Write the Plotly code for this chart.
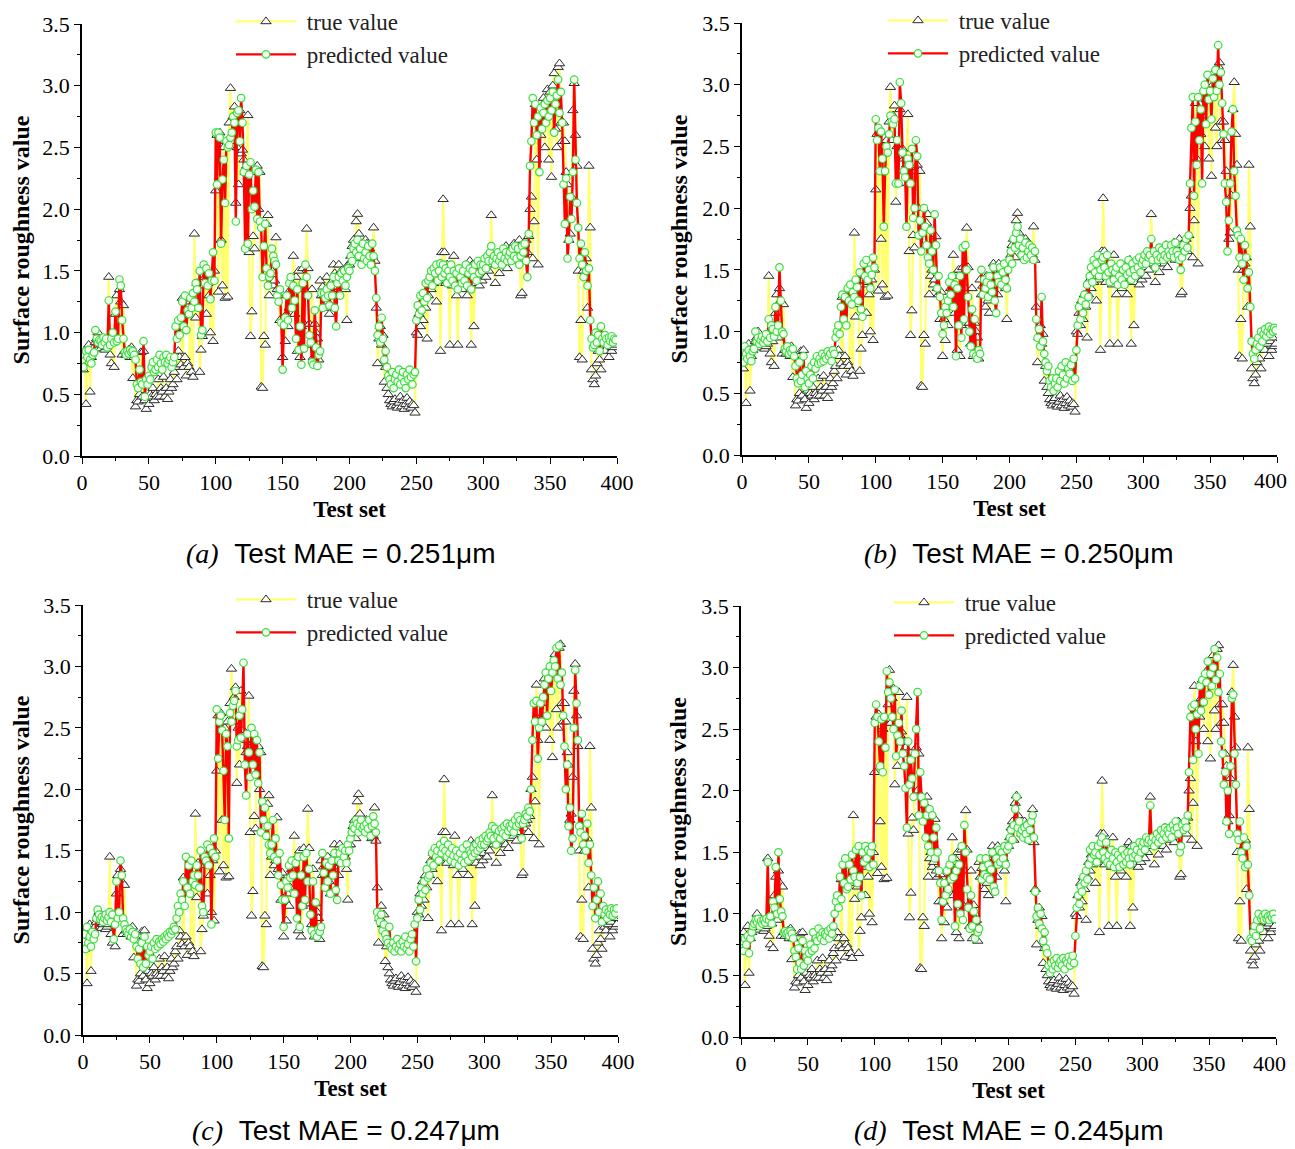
import plotly.graph_objects as go

# ---------------- data ----------------
true_value = [
    0.75, 0.70, 0.85, 0.42, 0.80, 0.90, 0.52, 0.80, 0.85, 0.88,
    0.92, 0.95, 1.00, 0.88, 0.87, 0.90, 0.92, 0.86, 0.88, 0.90,
    1.45, 0.82, 0.75, 0.92, 0.72, 1.15, 1.30, 0.95, 1.35, 1.25,
    0.82, 1.22, 0.85, 0.82, 0.84, 0.86, 0.80, 0.88, 0.63, 0.80,
    0.40, 0.45, 0.44, 0.50, 0.84, 0.48, 0.85, 0.45, 0.38, 0.52,
    0.42, 0.50, 0.48, 0.55, 0.45, 0.50, 0.48, 0.62, 0.48, 0.55,
    0.52, 0.64, 0.48, 0.55, 0.46, 0.52, 0.62, 0.55, 0.58, 0.68,
    0.72, 0.62, 0.85, 0.80, 0.74, 1.28, 0.72, 0.80, 0.65, 0.75,
    0.72, 1.25, 0.68, 0.64, 1.80, 1.12, 1.40, 1.22, 0.68, 0.86,
    0.97, 1.38, 1.45, 1.15, 1.40, 1.30, 1.00, 1.42, 0.93, 1.50,
    2.15, 2.60, 1.33, 2.62, 1.75, 1.38, 2.50, 1.28, 2.55, 1.29,
    2.70, 2.98, 2.55, 2.75, 2.83, 2.05, 2.50, 2.20, 2.80, 2.45,
    2.48, 2.40, 2.30, 2.35, 2.76, 1.65, 0.97, 1.17, 1.78, 1.68,
    2.30, 2.35, 2.00, 2.30, 0.56, 0.55, 0.97, 0.90, 1.88, 1.95,
    1.30, 1.45, 1.50, 1.38, 1.42, 1.77, 1.35, 1.30, 1.10, 1.32,
    0.80, 1.10, 0.93, 1.15, 1.05, 1.20, 1.35, 1.40, 1.62, 1.15,
    1.45, 0.85, 1.50, 0.80, 1.05, 1.52, 1.07, 1.35, 1.84, 1.52,
    1.07, 0.90, 1.35, 0.80, 1.07, 1.00, 0.95, 0.78, 1.42, 1.30,
    1.37, 1.30, 1.20, 1.45, 1.25, 1.15, 1.40, 1.35, 1.55, 1.48,
    1.45, 1.30, 1.55, 1.40, 1.50, 1.48, 1.45, 1.35, 1.10, 1.55,
    1.55, 1.62, 1.70, 1.75, 1.60, 1.90, 1.96, 1.80, 1.70, 1.72,
    1.65, 1.70, 1.75, 1.72, 1.65, 1.68, 1.60, 1.62, 1.85, 1.58,
    1.20, 0.75, 0.95, 1.05, 0.90, 0.98, 0.60, 0.72, 0.55, 0.50,
    0.45, 0.42, 0.40, 0.44, 0.46, 0.41, 0.39, 0.43, 0.48, 0.40,
    0.45, 0.38, 0.42, 0.47, 0.40, 0.44, 0.39, 0.42, 0.41, 0.35,
    1.00, 0.98, 1.15, 1.05, 1.25, 1.10, 1.30, 1.20, 0.95, 1.30,
    1.42, 1.35, 1.48, 1.40, 1.45, 1.25, 1.50, 1.42, 0.85, 1.65,
    2.08, 1.65, 1.40, 1.55, 1.50, 0.90, 1.45, 1.38, 1.62, 1.48,
    1.30, 0.90, 1.40, 1.50, 1.35, 1.45, 1.40, 1.52, 1.30, 1.45,
    1.58, 0.90, 1.55, 1.05, 1.40, 1.45, 1.50, 1.38, 1.55, 1.42,
    1.48, 1.52, 1.45, 1.60, 1.50, 1.62, 1.95, 1.55, 1.58, 1.40,
    1.55, 1.60, 1.48, 1.65, 1.58, 1.62, 1.55, 1.70, 1.52, 1.66,
    1.60, 1.68, 1.62, 1.72, 1.58, 1.70, 1.65, 1.75, 1.30, 1.32,
    1.68, 1.72, 1.75, 1.65, 1.78, 2.00, 2.10, 1.60, 1.90, 2.85,
    2.40, 1.55, 2.70, 2.60, 2.75, 2.90, 2.50, 2.88, 2.97, 2.40,
    2.95, 2.26, 3.00, 3.10, 2.65, 2.50, 3.15, 3.18, 2.70, 2.55,
    2.70, 2.55, 2.30, 2.20, 1.75, 1.80, 2.10, 2.80, 3.02, 2.60,
    2.35, 1.50, 0.80, 1.10, 0.78, 1.50, 1.55, 1.60, 1.20, 2.35,
    1.85, 0.70, 0.62, 0.58, 0.65, 0.75, 0.85, 0.78, 0.70, 0.95,
    0.88, 0.85, 0.95, 0.90, 0.80, 0.92, 0.85, 0.95, 0.88, 0.90,
]

pred_a = [
    0.78, 0.72, 0.82, 0.85, 0.80, 0.86, 0.78, 0.75, 0.82, 0.84,
    1.02, 0.95, 0.92, 0.94, 0.93, 0.90, 0.96, 0.92, 0.95, 0.88,
    1.26, 0.90, 0.95, 1.00, 0.92, 1.17, 0.93, 0.95, 1.43, 1.38,
    1.10, 0.95, 0.84, 0.82, 0.85, 0.83, 0.86, 0.84, 0.85, 0.82,
    0.78, 0.58, 0.55, 0.70, 0.60, 0.58, 0.93, 0.48, 0.62, 0.58,
    0.65, 0.62, 0.72, 0.76, 0.68, 0.70, 0.78, 0.72, 0.82, 0.75,
    0.70, 0.80, 0.76, 0.82, 0.75, 0.78, 0.80, 0.72, 0.76, 0.80,
    1.05, 0.95, 1.10, 0.98, 1.12, 1.25, 1.05, 1.30, 1.02, 1.18,
    1.15, 1.28, 1.20, 1.32, 1.25, 1.40, 1.35, 1.20, 1.50, 0.98,
    1.02, 1.55, 1.40, 1.52, 1.38, 1.48, 1.27, 1.42, 1.65, 1.42,
    2.62, 2.20, 2.62, 2.58, 1.72, 2.24, 2.40, 2.05, 2.55, 2.50,
    2.52, 2.58, 2.62, 2.75, 2.70, 1.90, 2.78, 2.80, 2.55, 2.90,
    2.70, 2.30, 1.68, 2.35, 1.72, 2.28, 2.38, 2.00, 2.15, 2.02,
    2.32, 1.92, 2.30, 1.90, 1.85, 1.45, 1.70, 1.88, 1.52, 1.38,
    1.45, 1.48, 1.68, 1.62, 1.58, 1.55, 1.30, 1.25, 1.35, 1.08,
    0.70, 1.06, 1.12, 1.30, 1.10, 1.40, 1.45, 1.20, 1.38, 1.26,
    0.95, 1.35, 0.86, 1.05, 0.74, 1.40, 0.87, 1.55, 1.45, 1.30,
    0.98, 0.92, 0.76, 0.74, 1.18, 0.88, 0.73, 0.82, 0.85, 1.32,
    1.20, 1.32, 1.28, 1.35, 1.30, 1.22, 1.38, 1.30, 1.45, 1.20,
    1.05, 1.40, 1.45, 1.30, 1.48, 1.42, 1.50, 1.38, 1.45, 1.52,
    1.50, 1.62, 1.58, 1.68, 1.72, 1.65, 1.75, 1.62, 1.68, 1.55,
    1.72, 1.60, 1.65, 1.58, 1.70, 1.62, 1.55, 1.72, 1.62, 1.50,
    1.28, 0.98, 1.05, 0.92, 1.12, 0.95, 0.78, 0.85, 0.72, 0.65,
    0.62, 0.58, 0.68, 0.55, 0.62, 0.66, 0.60, 0.70, 0.58, 0.64,
    0.68, 0.60, 0.55, 0.66, 0.62, 0.70, 0.64, 0.58, 0.66, 0.68,
    1.10, 1.22, 1.15, 1.30, 1.18, 1.32, 1.25, 1.40, 1.28, 1.42,
    1.45, 1.50, 1.38, 1.52, 1.48, 1.55, 1.42, 1.50, 1.56, 1.45,
    1.55, 1.48, 1.52, 1.40, 1.50, 1.45, 1.55, 1.42, 1.50, 1.38,
    1.48, 1.35, 1.52, 1.45, 1.40, 1.50, 1.42, 1.55, 1.38, 1.48,
    1.52, 1.35, 1.50, 1.45, 1.55, 1.42, 1.58, 1.48, 1.55, 1.50,
    1.55, 1.60, 1.52, 1.62, 1.58, 1.65, 1.70, 1.58, 1.62, 1.55,
    1.60, 1.65, 1.58, 1.62, 1.55, 1.68, 1.60, 1.65, 1.58, 1.62,
    1.65, 1.58, 1.68, 1.62, 1.70, 1.60, 1.68, 1.55, 1.62, 1.70,
    1.65, 1.72, 1.58, 1.45, 1.80, 2.35, 2.55, 2.90, 2.70, 2.85,
    2.60, 2.75, 2.30, 2.82, 2.65, 2.78, 2.85, 2.70, 2.88, 2.75,
    2.90, 2.80, 2.95, 2.62, 2.85, 2.92, 3.05, 2.78, 2.95, 2.70,
    2.20, 1.88, 2.25, 1.60, 1.75, 2.10, 1.92, 2.30, 3.05, 2.40,
    2.05, 1.85, 1.60, 1.72, 1.55, 1.45, 1.65, 1.50, 1.38, 1.52,
    1.10, 0.95, 0.88, 0.90, 1.00, 0.92, 0.98, 0.85, 1.05, 0.95,
    0.92, 0.98, 0.95, 0.90, 0.96, 0.93, 0.97, 0.92, 0.95, 0.94,
]

pred_b = [
    0.80, 0.75, 0.88, 0.82, 0.78, 0.85, 0.80, 0.76, 0.84, 0.86,
    1.00, 0.92, 0.95, 0.90, 0.93, 0.96, 0.91, 0.94, 0.98, 0.92,
    1.10, 0.95, 1.05, 1.02, 0.96, 1.20, 1.00, 1.05, 1.52, 1.25,
    1.00, 0.98, 0.86, 0.84, 0.88, 0.82, 0.85, 0.83, 0.86, 0.80,
    0.72, 0.62, 0.58, 0.75, 0.60, 0.65, 0.80, 0.55, 0.68, 0.62,
    0.58, 0.65, 0.72, 0.62, 0.75, 0.70, 0.80, 0.74, 0.78, 0.75,
    0.82, 0.76, 0.80, 0.78, 0.84, 0.80, 0.82, 0.76, 0.85, 0.82,
    0.95, 1.00, 1.05, 0.98, 1.20, 1.30, 1.10, 1.28, 1.05, 1.35,
    1.25, 1.38, 1.22, 1.32, 1.28, 1.42, 1.36, 1.25, 1.48, 1.18,
    1.12, 1.55, 1.45, 1.58, 1.42, 1.50, 1.35, 1.46, 1.60, 1.52,
    2.72, 2.55, 2.65, 2.30, 2.62, 2.40, 1.85, 2.30, 2.50, 2.45,
    2.60, 2.75, 2.70, 2.68, 2.72, 2.20, 2.55, 2.20, 3.02, 2.85,
    2.45, 2.30, 2.25, 1.85, 2.40, 2.35, 2.20, 2.48, 1.92, 2.00,
    2.55, 2.42, 1.78, 1.90, 1.65, 1.80, 2.00, 1.85, 1.70, 1.60,
    1.55, 1.82, 1.65, 1.50, 1.95, 1.70, 1.35, 1.45, 1.28, 1.15,
    0.98, 1.05, 1.20, 1.15, 1.25, 1.40, 1.30, 1.45, 1.20, 1.38,
    0.80, 1.35, 1.05, 1.45, 0.95, 1.68, 1.10, 1.70, 1.50, 1.28,
    1.00, 0.88, 1.18, 0.82, 1.10, 0.80, 0.78, 0.85, 0.82, 1.50,
    1.30, 1.42, 1.35, 1.40, 1.28, 1.45, 1.38, 1.32, 1.52, 1.25,
    1.15, 1.45, 1.40, 1.52, 1.38, 1.48, 1.55, 1.42, 1.35, 1.50,
    1.58, 1.65, 1.55, 1.75, 1.68, 1.80, 1.85, 1.70, 1.75, 1.62,
    1.68, 1.58, 1.72, 1.60, 1.65, 1.70, 1.62, 1.68, 1.58, 1.65,
    1.10, 0.95, 1.02, 0.88, 1.28, 0.92, 0.82, 0.75, 0.68, 0.72,
    0.60, 0.55, 0.62, 0.52, 0.58, 0.62, 0.55, 0.68, 0.60, 0.72,
    0.65, 0.58, 0.75, 0.62, 0.70, 0.66, 0.73, 0.60, 0.78, 0.62,
    0.85, 1.05, 1.20, 1.10, 1.25, 1.15, 1.30, 1.22, 1.38, 1.28,
    1.45, 1.52, 1.40, 1.58, 1.48, 1.55, 1.62, 1.45, 1.50, 1.58,
    1.60, 1.52, 1.45, 1.62, 1.48, 1.40, 1.55, 1.50, 1.42, 1.48,
    1.52, 1.38, 1.45, 1.55, 1.42, 1.50, 1.38, 1.52, 1.46, 1.58,
    1.48, 1.42, 1.55, 1.50, 1.45, 1.58, 1.52, 1.60, 1.48, 1.55,
    1.58, 1.62, 1.55, 1.65, 1.60, 1.62, 1.75, 1.58, 1.65, 1.52,
    1.62, 1.58, 1.68, 1.60, 1.66, 1.58, 1.62, 1.70, 1.60, 1.65,
    1.62, 1.70, 1.65, 1.60, 1.72, 1.65, 1.62, 1.58, 1.50, 1.60,
    1.70, 1.65, 1.75, 1.68, 1.78, 2.20, 2.65, 2.90, 2.10, 2.70,
    2.35, 2.90, 2.55, 2.80, 2.20, 2.95, 3.00, 2.68, 3.08, 2.88,
    2.95, 2.72, 3.05, 2.90, 3.12, 2.95, 3.32, 3.00, 3.10, 2.85,
    2.60, 2.20, 2.05, 1.65, 1.90, 2.20, 2.62, 2.80, 2.30, 2.10,
    1.82, 1.78, 1.60, 1.75, 1.55, 1.42, 1.70, 1.60, 1.35, 1.48,
    1.20, 0.92, 0.82, 0.78, 0.85, 0.90, 0.95, 0.88, 1.00, 0.92,
    0.98, 1.02, 0.96, 1.00, 1.04, 0.98, 1.02, 1.00, 1.03, 1.01,
]

pred_c = [
    0.76, 0.82, 0.70, 0.88, 0.75, 0.80, 0.72, 0.84, 0.78, 0.82,
    0.95, 1.02, 0.98, 0.94, 0.96, 0.92, 0.95, 0.98, 0.93, 0.96,
    1.00, 0.92, 0.98, 0.78, 0.90, 1.25, 0.95, 1.00, 1.42, 1.30,
    0.95, 0.90, 0.86, 0.84, 0.82, 0.86, 0.80, 0.84, 0.78, 0.82,
    0.72, 0.62, 0.70, 0.58, 0.75, 0.55, 0.80, 0.58, 0.72, 0.65,
    0.68, 0.72, 0.62, 0.75, 0.70, 0.78, 0.72, 0.76, 0.74, 0.78,
    0.76, 0.80, 0.78, 0.82, 0.80, 0.84, 0.82, 0.85, 0.88, 0.86,
    0.95, 1.05, 1.00, 1.15, 1.10, 1.25, 1.05, 1.45, 1.20, 1.38,
    1.15, 1.42, 1.25, 1.30, 1.22, 1.38, 1.30, 1.20, 1.50, 1.05,
    1.00, 1.45, 1.42, 1.55, 1.38, 1.52, 0.90, 1.48, 1.60, 1.45,
    2.65, 2.25, 2.55, 2.60, 2.48, 2.15, 1.75, 2.45, 2.35, 1.60,
    2.62, 2.55, 2.68, 2.72, 2.80, 2.35, 2.40, 2.60, 2.42, 2.65,
    3.03, 2.20, 1.95, 2.45, 2.30, 2.10, 2.50, 2.20, 2.45, 2.12,
    2.40, 2.05, 2.30, 1.65, 1.90, 1.75, 1.85, 1.62, 1.70, 1.55,
    1.48, 1.55, 1.75, 1.45, 1.60, 1.42, 1.30, 1.48, 1.22, 1.10,
    0.88, 1.10, 1.25, 1.20, 1.38, 1.28, 1.42, 1.30, 1.15, 1.40,
    0.95, 1.45, 0.88, 1.30, 1.05, 1.45, 1.10, 1.48, 1.25, 1.35,
    0.98, 0.85, 1.25, 0.82, 1.08, 0.80, 0.86, 0.84, 0.88, 1.48,
    1.32, 1.20, 1.40, 1.25, 1.38, 1.15, 1.42, 1.30, 1.48, 1.18,
    1.10, 1.42, 1.48, 1.40, 1.52, 1.45, 1.50, 1.40, 1.55, 1.50,
    1.60, 1.65, 1.70, 1.68, 1.75, 1.72, 1.65, 1.70, 1.75, 1.68,
    1.70, 1.65, 1.72, 1.68, 1.75, 1.62, 1.70, 1.78, 1.72, 1.65,
    1.00, 0.95, 0.92, 0.98, 0.85, 0.90, 0.82, 0.78, 0.75, 0.88,
    0.72, 0.70, 0.75, 0.68, 0.72, 0.78, 0.70, 0.74, 0.68, 0.76,
    0.72, 0.80, 0.70, 0.74, 0.68, 0.78, 0.82, 0.72, 0.90, 0.60,
    0.95, 1.10, 1.02, 1.20, 1.15, 1.25, 1.18, 1.35, 1.28, 1.30,
    1.40, 1.48, 1.38, 1.52, 1.45, 1.50, 1.42, 1.55, 1.48, 1.52,
    1.58, 1.50, 1.45, 1.55, 1.48, 1.42, 1.52, 1.46, 1.40, 1.50,
    1.45, 1.38, 1.48, 1.42, 1.52, 1.40, 1.46, 1.55, 1.42, 1.50,
    1.48, 1.45, 1.52, 1.48, 1.55, 1.50, 1.58, 1.52, 1.55, 1.60,
    1.55, 1.62, 1.58, 1.60, 1.65, 1.62, 1.70, 1.60, 1.68, 1.55,
    1.62, 1.66, 1.60, 1.68, 1.64, 1.70, 1.62, 1.72, 1.66, 1.70,
    1.68, 1.72, 1.65, 1.75, 1.70, 1.78, 1.72, 1.75, 1.60, 1.72,
    1.75, 1.80, 1.78, 1.85, 1.82, 2.00, 2.40, 2.70, 2.55, 2.72,
    2.25, 2.50, 2.70, 2.55, 2.75, 2.85, 2.95, 2.60, 2.90, 3.00,
    2.80, 2.95, 3.05, 3.00, 3.15, 2.90, 3.17, 2.85, 2.95, 2.60,
    2.35, 2.00, 2.20, 1.70, 1.85, 1.50, 1.60, 2.50, 2.97, 2.70,
    2.40, 1.70, 1.65, 1.80, 1.55, 1.62, 1.50, 1.72, 1.40, 1.55,
    1.30, 1.05, 1.20, 0.95, 1.10, 1.25, 1.00, 1.15, 0.92, 1.05,
    0.98, 1.02, 0.95, 1.00, 0.98, 1.03, 0.97, 1.02, 0.99, 1.03,
]

pred_d = [
    0.72, 0.78, 0.70, 0.80, 0.75, 0.82, 0.68, 0.80, 0.85, 0.90,
    0.92, 0.95, 0.93, 0.96, 0.90, 0.94, 0.92, 0.95, 0.93, 0.96,
    1.42, 0.95, 0.98, 0.92, 1.10, 1.05, 1.38, 1.00, 1.50, 1.12,
    1.02, 0.98, 0.85, 0.86, 0.84, 0.85, 0.82, 0.86, 0.84, 0.80,
    0.70, 0.65, 0.55, 0.72, 0.60, 0.55, 0.78, 0.58, 0.70, 0.65,
    0.62, 0.68, 0.75, 0.70, 0.85, 0.72, 0.80, 0.78, 0.88, 0.82,
    0.80, 0.85, 0.78, 0.84, 0.82, 0.86, 0.80, 0.88, 0.84, 0.90,
    1.00, 1.10, 1.15, 1.05, 1.30, 1.12, 1.40, 1.25, 1.45, 1.20,
    1.22, 1.40, 1.28, 1.48, 1.35, 1.30, 1.52, 1.25, 1.55, 1.30,
    1.15, 1.50, 1.42, 1.55, 1.45, 1.52, 1.38, 1.50, 1.55, 1.40,
    2.55, 2.70, 2.60, 2.40, 2.20, 2.58, 2.15, 2.60, 2.35, 2.97,
    2.80, 2.88, 2.75, 2.60, 2.50, 2.82, 2.28, 2.45, 2.55, 2.40,
    2.65, 2.30, 2.20, 2.02, 1.70, 2.40, 2.05, 2.25, 2.10, 1.95,
    2.30, 2.50, 2.80, 1.80, 2.15, 1.95, 1.75, 1.90, 1.62, 1.80,
    1.55, 1.85, 1.50, 1.80, 1.62, 1.45, 1.70, 1.50, 1.35, 1.25,
    0.95, 1.10, 1.25, 1.15, 1.35, 1.20, 1.40, 1.28, 1.45, 1.30,
    0.90, 1.35, 1.08, 1.40, 1.00, 1.55, 0.95, 1.72, 1.50, 1.20,
    1.05, 0.88, 1.15, 0.90, 1.02, 0.80, 0.95, 0.85, 0.88, 1.45,
    1.28, 1.38, 1.32, 1.45, 1.30, 1.40, 1.28, 1.36, 1.50, 1.22,
    1.18, 1.45, 1.40, 1.52, 1.42, 1.50, 1.45, 1.55, 1.40, 1.52,
    1.55, 1.62, 1.68, 1.60, 1.72, 1.85, 1.95, 1.70, 1.75, 1.65,
    1.68, 1.62, 1.70, 1.65, 1.72, 1.60, 1.68, 1.75, 1.80, 1.62,
    1.18, 0.98, 1.05, 0.92, 1.00, 0.88, 0.78, 0.85, 0.72, 0.68,
    0.58, 0.52, 0.60, 0.55, 0.62, 0.58, 0.64, 0.56, 0.60, 0.62,
    0.58, 0.64, 0.55, 0.62, 0.60, 0.65, 0.58, 0.62, 0.66, 0.60,
    0.82, 1.05, 1.15, 1.08, 1.22, 1.18, 1.30, 1.25, 1.35, 1.28,
    1.40, 1.52, 1.45, 1.55, 1.48, 1.50, 1.42, 1.55, 1.48, 1.58,
    1.62, 1.50, 1.45, 1.58, 1.42, 1.48, 1.40, 1.52, 1.45, 1.38,
    1.50, 1.42, 1.48, 1.38, 1.45, 1.52, 1.40, 1.48, 1.42, 1.50,
    1.45, 1.40, 1.50, 1.46, 1.55, 1.48, 1.52, 1.45, 1.58, 1.50,
    1.55, 1.58, 1.52, 1.62, 1.58, 1.60, 1.88, 1.58, 1.62, 1.55,
    1.60, 1.65, 1.58, 1.62, 1.68, 1.60, 1.65, 1.70, 1.62, 1.68,
    1.65, 1.70, 1.62, 1.72, 1.68, 1.75, 1.70, 1.65, 1.50, 1.55,
    1.72, 1.68, 1.75, 1.70, 1.80, 2.15, 2.60, 2.68, 2.25, 2.70,
    2.50, 2.62, 2.30, 2.85, 2.65, 2.90, 2.72, 2.95, 2.88, 3.05,
    2.78, 2.95, 2.85, 3.00, 3.15, 2.90, 3.08, 2.80, 2.95, 2.40,
    2.30, 2.05, 2.15, 1.75, 2.00, 1.65, 2.20, 2.75, 2.78, 2.30,
    2.05, 1.65, 1.60, 1.75, 1.50, 1.45, 1.62, 1.38, 1.55, 1.40,
    1.15, 0.80, 0.78, 0.85, 0.90, 0.82, 0.95, 1.00, 0.88, 0.96,
    0.98, 0.95, 1.00, 0.96, 0.98, 0.95, 0.99, 0.97, 1.00, 0.96,
]

panel_letters = ["a", "b", "c", "d"]
panel_mae = ["0.251", "0.250", "0.247", "0.245"]
predictions = [pred_a, pred_b, pred_c, pred_d]
y_ticks = [0.0, 0.5, 1.0, 1.5, 2.0, 2.5, 3.0, 3.5]
x_ticks = [0, 50, 100, 150, 200, 250, 300, 350, 400]
test_index = list(range(len(true_value)))

# ---------------- layout geometry ----------------
# The page body has an 8px margin: the figure starts 8px in. Positions below are
# measured in reference pixels and converted to paper fractions.
OFF = 8
W, H = 1295 - OFF, 1149 - OFF
panels = [
    dict(x0=82, x1=617, yt=24, yb=456, lx=231, ly=0, cx=340, cy=553, edge=False),
    dict(x0=742, x1=1277, yt=23, yb=455, lx=883, ly=-1, cx=1018, cy=553, edge=True),
    dict(x0=83, x1=618, yt=605, yb=1035, lx=231, ly=578, cx=346, cy=1130, edge=False),
    dict(x0=741, x1=1276, yt=606, yb=1037, lx=889, ly=581, cx=1008, cy=1130, edge=True),
]


def fx(px):
    return (px - OFF) / W


def fy(px):
    return 1 - (px - OFF) / H


SERIF = "Liberation Serif, Times New Roman, serif"
SANS = "Liberation Sans, Arial, sans-serif"

fig = go.Figure()
layout = dict(
    width=W, height=H, autosize=False,
    margin=dict(l=0, r=0, t=0, b=0, pad=0, autoexpand=False),
    paper_bgcolor="white", plot_bgcolor="white",
    showlegend=True,
    annotations=[],
)

tick_font = dict(family=SERIF, size=22, color="black")

for i, (p, pred, letter, mae) in enumerate(zip(panels, predictions, panel_letters, panel_mae)):
    n = "" if i == 0 else str(i + 1)
    xa, ya = "x" + n, "y" + n
    leg = "legend" + n
    fig.add_trace(go.Scatter(
        x=test_index, y=true_value, xaxis=xa, yaxis=ya, legend=leg,
        name="\u2005true value", mode="lines+markers",
        line=dict(color="#ffff70", width=2.2),
        marker=dict(symbol="triangle-up", size=9, color="white",
                    line=dict(color="#2b2b2b", width=1)),
    ))
    fig.add_trace(go.Scatter(
        x=test_index, y=pred, xaxis=xa, yaxis=ya, legend=leg,
        name="\u2005predicted value", mode="lines+markers",
        line=dict(color="#ff0000", width=2.4),
        marker=dict(symbol="circle", size=7.5, color="#f2fff2",
                    line=dict(color="#3ddc3d", width=1.2)),
    ))
    axis_common = dict(
        showline=True, linecolor="black", linewidth=1.6, mirror=False,
        showgrid=False, zeroline=False, ticks="outside", ticklen=6,
        tickwidth=1.4, tickcolor="black", automargin=False,
        tickfont=tick_font,
    )
    # on the right-hand panels the last label ("400") sits at the page edge;
    # it is written as an annotation anchored at that tick, nudged inwards
    x_text = [str(v) for v in x_ticks]
    if p["edge"]:
        x_text[-1] = ""
        layout["annotations"].append(dict(
            xref=xa, yref=ya, x=x_ticks[-1], y=y_ticks[0],
            xanchor="center", yanchor="middle", xshift=-7, yshift=-26,
            showarrow=False, text=str(x_ticks[-1]), font=tick_font,
        ))
    layout["xaxis" + n] = dict(
        axis_common, domain=[fx(p["x0"]), fx(p["x1"])], anchor=ya,
        range=[0, 400], tickmode="array", tickvals=x_ticks, ticktext=x_text,
        minor=dict(ticks="outside", ticklen=3, tickwidth=1.2, tickcolor="black", dtick=25),
        title=dict(text="<b>Test set</b>", font=dict(family=SERIF, size=23, color="black"), standoff=7),
    )
    layout["yaxis" + n] = dict(
        axis_common, domain=[fy(p["yb"]), fy(p["yt"])], anchor=xa,
        range=[0, 3.5], tickmode="array", tickvals=y_ticks,
        ticktext=["%.1f" % v for v in y_ticks],
        minor=dict(ticks="outside", ticklen=3, tickwidth=1.2, tickcolor="black", dtick=0.25),
        title=dict(text="<b>Surface roughness value</b>", font=dict(family=SERIF, size=24, color="black"), standoff=8),
    )
    layout[leg] = dict(
        x=fx(p["lx"]), y=fy(p["ly"]), xanchor="left", yanchor="top",
        bgcolor="rgba(0,0,0,0)", borderwidth=0,
        font=dict(family=SERIF, size=23, color="#222"),
        itemwidth=60, tracegroupgap=0,
    )
    layout["annotations"].append(dict(
        xref="paper", yref="paper", x=fx(p["cx"]), y=fy(p["cy"]),
        xanchor="center", yanchor="middle", showarrow=False,
        text="<span style='font-family:Liberation Serif'><i>(" + letter + ")</i></span>&nbsp;&nbsp;Test MAE = " + mae + "μm",
        font=dict(family=SANS, size=28, color="black"),
    ))

fig.update_layout(**layout)
fig.write_html("out.html")
